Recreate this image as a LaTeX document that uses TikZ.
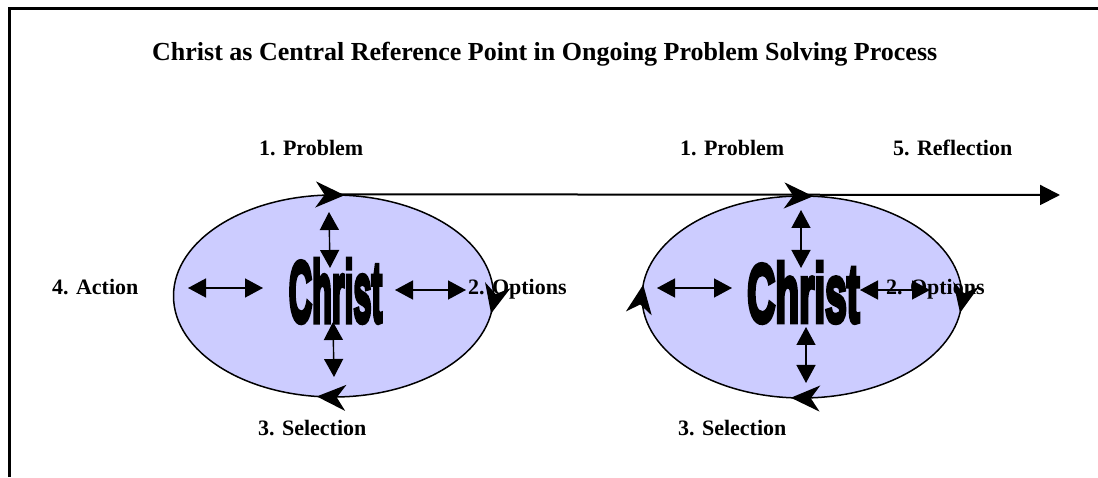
\documentclass[tikz,border=0pt]{standalone}
\usepackage{fontspec}
\setmainfont{Liberation Serif}
\newfontfamily\christfont[FakeBold=6]{Liberation Sans Bold}
\usetikzlibrary{arrows.meta,shapes.geometric}
\definecolor{ovalfill}{RGB}{204,204,255}
\begin{document}
\begin{tikzpicture}[x=1pt, y=1pt, inner sep=0pt,
    oval/.style={ellipse, draw, line width=1.5pt, fill=ovalfill, minimum width=320pt, minimum height=202pt},
    lbl/.style={anchor=base west, font=\fontsize{22}{24}\selectfont\bfseries},
    twoway/.style={line width=1.4pt, {Triangle[length=18pt,width=19pt]}-{Triangle[length=18pt,width=19pt]}},
    cyclearrow/.style={line width=1.5pt, -{Stealth[length=29pt,width=26pt,inset=9pt]}}]
  \useasboundingbox (0,0) rectangle (1098,477);
  % frame
  \coordinate (fb) at (9.5,0);
  \coordinate (fc) at (9.5,468.5);
  \coordinate (fr) at (1098,468.5);
  \draw[line width=2.2pt] (fb) -- (fc) -- (fr);
  % title
  \node[anchor=base west, font=\fontsize{26}{28}\selectfont\bfseries] (title) at (152,416.4)
    {Christ as Central Reference Point in Ongoing Problem Solving Process};
  % the two cycles
  \node[oval] (E1) at (333.5,181) {};
  \node[oval] (E2) at (802,180) {};
  \draw[cyclearrow] ([shift={(89:160 and 101)}]E1.center) -- ([shift={(86:160 and 101)}]E1.center);
  \draw[cyclearrow] ([shift={(-7:160 and 101)}]E1.center) -- ([shift={(-10:160 and 101)}]E1.center);
  \draw[cyclearrow] ([shift={(267:160 and 101)}]E1.center) -- ([shift={(264:160 and 101)}]E1.center);
  \draw[cyclearrow] ([shift={(89:160 and 101)}]E2.center) -- ([shift={(86:160 and 101)}]E2.center);
  \draw[cyclearrow] ([shift={(-6:160 and 101)}]E2.center) -- ([shift={(-9:160 and 101)}]E2.center);
  \draw[cyclearrow] ([shift={(269:160 and 101)}]E2.center) -- ([shift={(266:160 and 101)}]E2.center);
  \draw[cyclearrow] ([shift={(176:160 and 101)}]E2.center) -- ([shift={(173:160 and 101)}]E2.center);
  % ongoing line
  \coordinate (flowend) at (1060,282);
  \draw[line width=2pt, -{Triangle[length=20pt,width=20pt]}] (E1.north) -- (flowend);
  % centre words
  \node (C1) at (335.5,186) {\fontsize{66}{66}\selectfont\scalebox{0.49}[1.31]{\christfont Christ}};
  \node (C2) at (803.5,184.5) {\fontsize{66}{66}\selectfont\scalebox{0.59}[1.25]{\christfont Christ}};
  % double arrows, first cycle
  \coordinate (t1a) at (329,265); \coordinate (t1b) at (330,209);
  \coordinate (b1a) at (333,155); \coordinate (b1b) at (334,100);
  \coordinate (l1a) at (188,189); \coordinate (l1b) at (263,189);
  \coordinate (r1a) at (395,187); \coordinate (r1b) at (466,187);
  \draw[twoway] (t1a) -- (t1b);
  \draw[twoway] (b1a) -- (b1b);
  \draw[twoway] (l1a) -- (l1b);
  \draw[twoway] (r1a) -- (r1b);
  % double arrows, second cycle
  \coordinate (t2a) at (801,267); \coordinate (t2b) at (801,209);
  \coordinate (b2a) at (806,150); \coordinate (b2b) at (806,94);
  \coordinate (l2a) at (657,189); \coordinate (l2b) at (732,189);
  \coordinate (r2a) at (860,187); \coordinate (r2b) at (930,187);
  \draw[twoway] (t2a) -- (t2b);
  \draw[twoway] (b2a) -- (b2b);
  \draw[twoway] (l2a) -- (l2b);
  \draw[twoway] (r2a) -- (r2b);
  % step labels
  \node[lbl] (prob1) at (259,321.7) {1. Problem};
  \node[lbl] (prob2) at (680,321.7) {1. Problem};
  \node[lbl] (refl) at (893,321.7) {5. Reflection};
  \node[lbl] (act) at (52,182.7) {4. Action};
  \node[lbl] (opt1) at (468,182.7) {2. Options};
  \node[lbl] (opt2) at (886,182.7) {2. Options};
  \node[lbl] (sel1) at (258,41.7) {3. Selection};
  \node[lbl] (sel2) at (678,41.7) {3. Selection};
\end{tikzpicture}
\end{document}
